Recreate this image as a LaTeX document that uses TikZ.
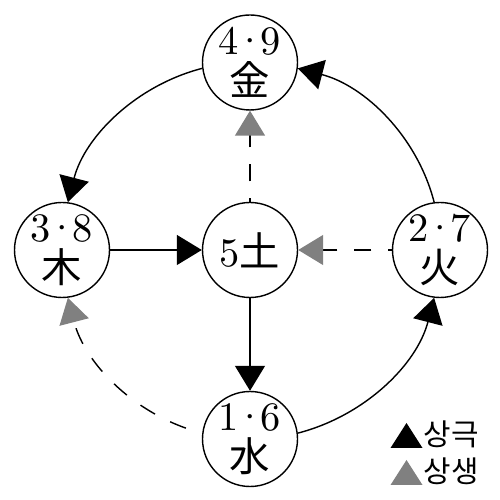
\documentclass[tikz,border=0pt]{standalone}
\usepackage{fontspec}
\newfontfamily\kr{Noto Sans CJK KR}
\newfontfamily\numfont{lmroman10-regular.otf}
\newcommand\elnum[2]{{\numfont\fontsize{23}{23}\selectfont #1\kern-.12em·\kern-.12em#2}}
\newcommand\elchar[1]{{\kr\fontsize{23}{23}\selectfont #1}}
\usetikzlibrary{arrows.meta}

\begin{document}
\begin{tikzpicture}[
    element/.style={draw, circle, line width=0.8pt, minimum size=1.9cm, inner sep=0pt,
        align=center, font=\fontsize{23}{23}\selectfont},
    geuk/.style={line width=0.8pt, -{Triangle[length=0.5cm, width=0.6cm]}},
    saeng/.style={line width=0.8pt, dash pattern=on 0.34cm off 0.34cm, dash phase=0.27cm,
        -{Triangle[length=0.5cm, width=0.6cm, color=gray]}},
    legend/.style={inner sep=0pt, font=\kr\fontsize{17}{17}\selectfont}
]
    \useasboundingbox (0,0) rectangle (10,10);

    % the five elements
    \node[element] (geum) at (5,8.75) {\elnum{4}{9}\\\elchar{金}}; % metal
    \node[element] (mok) at (1.24,5) {\elnum{3}{8}\\\elchar{木}}; % wood
    \node[element] (tou) at (5,5) {{\numfont 5}\elchar{土}}; % earth
    \node[element] (hwa) at (8.8,5) {\elnum{2}{7}\\\elchar{火}}; % fire
    \node[element] (su) at (5,1.22) {\elnum{1}{6}\\\elchar{水}}; % water

    % outer ring
    \draw[geuk] (geum.187) to[out=194.5, in=75.5, looseness=0.92] (mok.83);
    \draw[geuk] (hwa.97) to[out=104.5, in=345.5, looseness=0.92] (geum.353);
    \draw[geuk] (su.7) to[out=14.5, in=255.5, looseness=0.92] (hwa.263);
    \draw[saeng, dash phase=0.34cm] (su.173) to[out=165.5, in=284.5, looseness=0.92] (mok.277);

    % through the middle
    \draw[geuk] (mok) -- (tou);
    \draw[geuk] (tou) -- (su);
    \draw[saeng] (hwa) -- (tou);
    \draw[saeng] (tou) -- (geum);

    % key
    \node[legend, anchor=west] (geukkey) at (8.47,1.32) {상극};
    \node[legend, anchor=west] (saengkey) at (8.47,0.58) {상생};
    \fill ([shift={(-0.66,-0.28)}]geukkey.west) -- ++(0.64,0) -- ++(-0.32,0.5) -- cycle;
    \fill[gray] ([shift={(-0.66,-0.28)}]saengkey.west) -- ++(0.64,0) -- ++(-0.32,0.5) -- cycle;
\end{tikzpicture}
\end{document}
